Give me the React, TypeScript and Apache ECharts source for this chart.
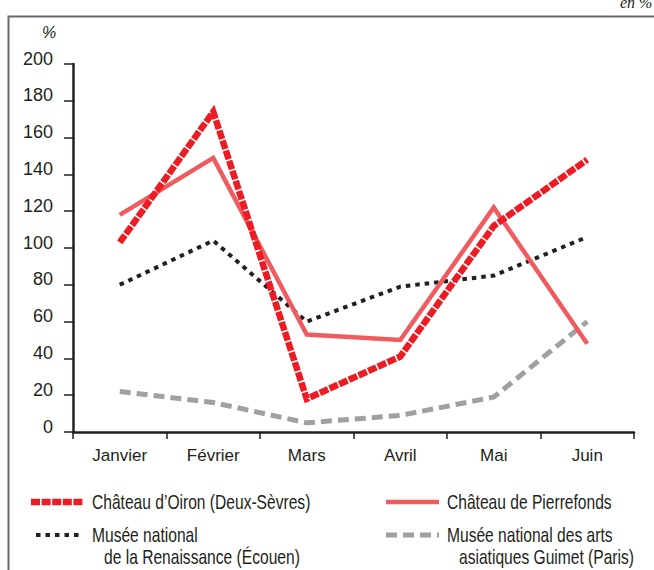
import React, { useEffect, useRef } from "react";
import * as echarts from "echarts";

const months = ["Janvier", "Février", "Mars", "Avril", "Mai", "Juin"];
const yTicks = [0, 20, 40, 60, 80, 100, 120, 140, 160, 180, 200];

const seriesNames = [
  "Château d'Oiron (Deux-Sèvres)",
  "Château de Pierrefonds",
  "Musée national de la Renaissance (Écouen)",
  "Musée national des arts asiatiques Guimet (Paris)",
];
const legendLines = [
  ["Château d’Oiron (Deux-Sèvres)"],
  ["Château de Pierrefonds"],
  ["Musée national", "de la Renaissance (Écouen)"],
  ["Musée national des arts", "asiatiques Guimet (Paris)"],
];

const oiron = [103, 174, 18, 41, 112, 148];
const pierrefonds = [118, 149, 53, 50, 122, 48];
const ecouen = [80, 104, 60, 79, 85, 106];
const guimet = [22, 16, 5, 9, 19, 60];

const FONT = "'Liberation Sans', Arial, sans-serif";
const TEXT = "#231f20";

const styles = [
  { color: "#ed1c24", width: 6.5, dash: [9, 1.6] as number[] | "solid" },
  { color: "#ef5c60", width: 4.5, dash: "solid" as number[] | "solid" },
  { color: "#231f20", width: 4, dash: [4.5, 5] as number[] | "solid" },
  { color: "#a0a0a3", width: 5, dash: [11, 6] as number[] | "solid" },
];

export default function App() {
  const ref = useRef<HTMLDivElement>(null);
  useEffect(() => {
    if (!ref.current) return;
    const chart = echarts.init(ref.current, null, { renderer: "svg" });
    const data = [oiron, pierrefonds, ecouen, guimet];

    const legendPos = [
      { sx: 31, ex: 83, tx: 92, y: 502 },
      { sx: 386, ex: 439, tx: 447, y: 502 },
      { sx: 36, ex: 83, tx: 92, y: 535 },
      { sx: 386, ex: 439, tx: 447, y: 535 },
    ];
    const indents = [0, 0, 12, 12];
    const legendGraphics: any[] = [];
    legendPos.forEach((p, i) => {
      const s = styles[i];
      legendGraphics.push({
        type: "line",
        shape: { x1: p.sx, y1: p.y, x2: p.ex, y2: p.y },
        style: {
          stroke: s.color,
          lineWidth: s.width,
          lineDash: s.dash === "solid" ? null : s.dash,
          lineCap: "butt",
        },
      });
      legendLines[i].forEach((ln, j) => {
        legendGraphics.push({
          type: "text",
          x: p.tx + (j > 0 ? indents[i] : 0),
          y: p.y + j * 22,
          scaleX: 0.78,
          style: {
            text: ln,
            font: `20px ${FONT}`,
            fill: TEXT,
            verticalAlign: "middle",
          },
        });
      });
    });

    chart.setOption({
      animation: false,
      grid: { left: 73, right: 20, top: 64, bottom: 138, containLabel: false },
      xAxis: {
        type: "category",
        data: months,
        boundaryGap: true,
        axisLine: { lineStyle: { color: TEXT, width: 2.5 } },
        axisTick: { show: true, length: 7, lineStyle: { color: TEXT, width: 1.5 } },
        axisLabel: { color: TEXT, fontSize: 17, fontFamily: FONT, margin: 15 },
      },
      yAxis: {
        type: "value",
        min: yTicks[0],
        max: yTicks[yTicks.length - 1],
        interval: 20,
        splitLine: { show: false },
        axisLine: { show: true, lineStyle: { color: TEXT, width: 2.5 } },
        axisTick: { show: true, length: 9, lineStyle: { color: TEXT, width: 1.5 } },
        axisLabel: {
          color: TEXT,
          fontSize: 18,
          fontFamily: FONT,
          margin: 20,
          verticalAlign: "bottom",
          lineHeight: 11,
        },
      },
      series: data.map((d, i) => ({
        name: seriesNames[i],
        type: "line",
        data: d,
        showSymbol: false,
        symbol: "none",
        z: 10 - i,
        lineStyle: {
          color: styles[i].color,
          width: styles[i].width,
          type: styles[i].dash,
          cap: "butt",
          join: "miter",
        },
      })),
      graphic: [
        {
          type: "polyline",
          shape: { points: [[8.5, 570], [8.5, 16.5], [654, 16.5]] },
          style: { stroke: "#6a6a6a", lineWidth: 2, fill: null },
        },
        {
          type: "text",
          x: 620,
          y: -6,
          style: { text: "en %", font: "italic 16px 'Liberation Serif', serif", fill: TEXT },
        },
        {
          type: "text",
          x: 49,
          y: 32,
          style: {
            text: "%",
            font: `italic 16px ${FONT}`,
            fill: TEXT,
            align: "center",
            verticalAlign: "middle",
          },
        },
        ...legendGraphics,
      ],
    });
    return () => chart.dispose();
  }, []);
  return (
    <div
      ref={ref}
      style={{ position: "fixed", left: 0, top: 0, width: 654, height: 570, background: "#fff" }}
    />
  );
}
